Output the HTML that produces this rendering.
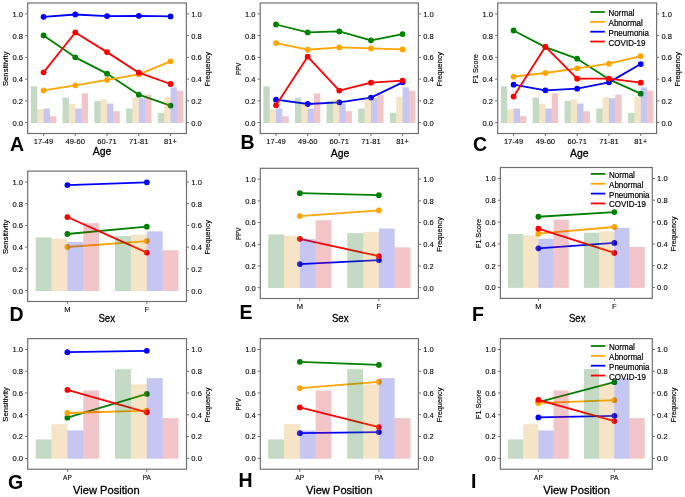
<!DOCTYPE html>
<html><head><meta charset="utf-8">
<style>
html,body{margin:0;padding:0;background:#fff;}
body{width:685px;height:497px;overflow:hidden;}
svg{display:block;will-change:transform;}
text{font-family:"Liberation Sans", sans-serif;}
.tk{font-size:8.0px;fill:#000;stroke:#000;stroke-width:0.1px;}
.yl{font-size:7.5px;fill:#000;stroke:#000;stroke-width:0.15px;}
.xl{font-size:11px;fill:#000;stroke:#000;stroke-width:0.3px;}
.let{font-size:19.5px;font-weight:bold;fill:#000;}
.lg{font-size:8.6px;fill:#000;stroke:#000;stroke-width:0.2px;}
</style></head><body>
<svg width="685" height="497" viewBox="0 0 685 497">
<rect width="685" height="497" fill="#fff"/>
<g><polyline points="43.57,35.48 75.31,57.34 107.05,73.65 138.79,94.64 170.53,105.62" fill="none" stroke="#008000" stroke-width="1.8" stroke-linejoin="round"/>
<circle cx="43.57" cy="35.48" r="2.9" fill="#008000"/>
<circle cx="75.31" cy="57.34" r="2.9" fill="#008000"/>
<circle cx="107.05" cy="73.65" r="2.9" fill="#008000"/>
<circle cx="138.79" cy="94.64" r="2.9" fill="#008000"/>
<circle cx="170.53" cy="105.62" r="2.9" fill="#008000"/>
<polyline points="43.57,90.4 75.31,85.29 107.05,79.96 138.79,74.31 170.53,61.36" fill="none" stroke="#ffa500" stroke-width="1.8" stroke-linejoin="round"/>
<circle cx="43.57" cy="90.4" r="2.9" fill="#ffa500"/>
<circle cx="75.31" cy="85.29" r="2.9" fill="#ffa500"/>
<circle cx="107.05" cy="79.96" r="2.9" fill="#ffa500"/>
<circle cx="138.79" cy="74.31" r="2.9" fill="#ffa500"/>
<circle cx="170.53" cy="61.36" r="2.9" fill="#ffa500"/>
<polyline points="43.57,16.78 75.31,14.49 107.05,16.12 138.79,15.8 170.53,16.45" fill="none" stroke="#0000ff" stroke-width="1.8" stroke-linejoin="round"/>
<circle cx="43.57" cy="16.78" r="2.9" fill="#0000ff"/>
<circle cx="75.31" cy="14.49" r="2.9" fill="#0000ff"/>
<circle cx="107.05" cy="16.12" r="2.9" fill="#0000ff"/>
<circle cx="138.79" cy="15.8" r="2.9" fill="#0000ff"/>
<circle cx="170.53" cy="16.45" r="2.9" fill="#0000ff"/>
<polyline points="43.57,72.35 75.31,32.44 107.05,52.12 138.79,72.67 170.53,83.98" fill="none" stroke="#ff0000" stroke-width="1.8" stroke-linejoin="round"/>
<circle cx="43.57" cy="72.35" r="2.9" fill="#ff0000"/>
<circle cx="75.31" cy="32.44" r="2.9" fill="#ff0000"/>
<circle cx="107.05" cy="52.12" r="2.9" fill="#ff0000"/>
<circle cx="138.79" cy="72.67" r="2.9" fill="#ff0000"/>
<circle cx="170.53" cy="83.98" r="2.9" fill="#ff0000"/>
<rect x="30.87" y="86.27" width="6.35" height="36.76" fill="rgb(19,107,19)" fill-opacity="0.25"/>
<rect x="62.61" y="97.58" width="6.35" height="25.45" fill="rgb(19,107,19)" fill-opacity="0.25"/>
<rect x="94.35" y="100.95" width="6.35" height="22.08" fill="rgb(19,107,19)" fill-opacity="0.25"/>
<rect x="126.09" y="108.56" width="6.35" height="14.46" fill="rgb(19,107,19)" fill-opacity="0.25"/>
<rect x="157.83" y="112.91" width="6.35" height="10.11" fill="rgb(19,107,19)" fill-opacity="0.25"/>
<rect x="37.22" y="109.21" width="6.35" height="13.81" fill="rgb(215,147,27)" fill-opacity="0.25"/>
<rect x="68.96" y="103.99" width="6.35" height="19.03" fill="rgb(215,147,27)" fill-opacity="0.25"/>
<rect x="100.7" y="99.32" width="6.35" height="23.71" fill="rgb(215,147,27)" fill-opacity="0.25"/>
<rect x="132.44" y="97.25" width="6.35" height="25.77" fill="rgb(215,147,27)" fill-opacity="0.25"/>
<rect x="164.18" y="96.93" width="6.35" height="26.1" fill="rgb(215,147,27)" fill-opacity="0.25"/>
<rect x="43.57" y="108.56" width="6.35" height="14.46" fill="rgb(27,27,203)" fill-opacity="0.25"/>
<rect x="75.31" y="108.56" width="6.35" height="14.46" fill="rgb(27,27,203)" fill-opacity="0.25"/>
<rect x="107.05" y="103.56" width="6.35" height="19.47" fill="rgb(27,27,203)" fill-opacity="0.25"/>
<rect x="138.79" y="98.23" width="6.35" height="24.8" fill="rgb(27,27,203)" fill-opacity="0.25"/>
<rect x="170.53" y="87.35" width="6.35" height="35.67" fill="rgb(27,27,203)" fill-opacity="0.25"/>
<rect x="49.92" y="116.17" width="6.35" height="6.85" fill="rgb(203,27,35)" fill-opacity="0.25"/>
<rect x="81.66" y="93.34" width="6.35" height="29.69" fill="rgb(203,27,35)" fill-opacity="0.25"/>
<rect x="113.4" y="111.28" width="6.35" height="11.75" fill="rgb(203,27,35)" fill-opacity="0.25"/>
<rect x="145.14" y="94.64" width="6.35" height="28.38" fill="rgb(203,27,35)" fill-opacity="0.25"/>
<rect x="176.88" y="90.62" width="6.35" height="32.41" fill="rgb(203,27,35)" fill-opacity="0.25"/>
<rect x="27.7" y="3" width="158.7" height="130.5" fill="none" stroke="#707070" stroke-width="1.2"/>
<line x1="25.1" y1="122.62" x2="27.7" y2="122.62" stroke="#707070" stroke-width="1"/>
<line x1="186.4" y1="122.62" x2="189" y2="122.62" stroke="#707070" stroke-width="1"/>
<text transform="translate(23.1,125.53) scale(0.95,1)" text-anchor="end" class="tk">0.0</text>
<text transform="translate(191.2,125.53) scale(0.95,1)" class="tk">0.0</text>
<line x1="25.1" y1="100.88" x2="27.7" y2="100.88" stroke="#707070" stroke-width="1"/>
<line x1="186.4" y1="100.88" x2="189" y2="100.88" stroke="#707070" stroke-width="1"/>
<text transform="translate(23.1,103.78) scale(0.95,1)" text-anchor="end" class="tk">0.2</text>
<text transform="translate(191.2,103.78) scale(0.95,1)" class="tk">0.2</text>
<line x1="25.1" y1="79.12" x2="27.7" y2="79.12" stroke="#707070" stroke-width="1"/>
<line x1="186.4" y1="79.12" x2="189" y2="79.12" stroke="#707070" stroke-width="1"/>
<text transform="translate(23.1,82.03) scale(0.95,1)" text-anchor="end" class="tk">0.4</text>
<text transform="translate(191.2,82.03) scale(0.95,1)" class="tk">0.4</text>
<line x1="25.1" y1="57.38" x2="27.7" y2="57.38" stroke="#707070" stroke-width="1"/>
<line x1="186.4" y1="57.38" x2="189" y2="57.38" stroke="#707070" stroke-width="1"/>
<text transform="translate(23.1,60.27) scale(0.95,1)" text-anchor="end" class="tk">0.6</text>
<text transform="translate(191.2,60.27) scale(0.95,1)" class="tk">0.6</text>
<line x1="25.1" y1="35.62" x2="27.7" y2="35.62" stroke="#707070" stroke-width="1"/>
<line x1="186.4" y1="35.62" x2="189" y2="35.62" stroke="#707070" stroke-width="1"/>
<text transform="translate(23.1,38.52) scale(0.95,1)" text-anchor="end" class="tk">0.8</text>
<text transform="translate(191.2,38.52) scale(0.95,1)" class="tk">0.8</text>
<line x1="25.1" y1="13.87" x2="27.7" y2="13.87" stroke="#707070" stroke-width="1"/>
<line x1="186.4" y1="13.87" x2="189" y2="13.87" stroke="#707070" stroke-width="1"/>
<text transform="translate(23.1,16.77) scale(0.95,1)" text-anchor="end" class="tk">1.0</text>
<text transform="translate(191.2,16.77) scale(0.95,1)" class="tk">1.0</text>
<line x1="43.57" y1="133.5" x2="43.57" y2="136.1" stroke="#707070" stroke-width="1"/>
<text transform="translate(43.57,144.3) scale(0.95,1)" text-anchor="middle" class="tk">17-49</text>
<line x1="75.31" y1="133.5" x2="75.31" y2="136.1" stroke="#707070" stroke-width="1"/>
<text transform="translate(75.31,144.3) scale(0.95,1)" text-anchor="middle" class="tk">49-60</text>
<line x1="107.05" y1="133.5" x2="107.05" y2="136.1" stroke="#707070" stroke-width="1"/>
<text transform="translate(107.05,144.3) scale(0.95,1)" text-anchor="middle" class="tk">60-71</text>
<line x1="138.79" y1="133.5" x2="138.79" y2="136.1" stroke="#707070" stroke-width="1"/>
<text transform="translate(138.79,144.3) scale(0.95,1)" text-anchor="middle" class="tk">71-81</text>
<line x1="170.53" y1="133.5" x2="170.53" y2="136.1" stroke="#707070" stroke-width="1"/>
<text transform="translate(170.53,144.3) scale(0.95,1)" text-anchor="middle" class="tk">81+</text>
<text transform="translate(8.2,68.75) rotate(-90)" text-anchor="middle" class="yl" textLength="34.5" lengthAdjust="spacingAndGlyphs">Sensitivity</text>
<text transform="translate(209.7,69.25) rotate(-90)" text-anchor="middle" class="yl" textLength="34.5" lengthAdjust="spacingAndGlyphs">Frequency</text>
<text x="102.1" y="155.1" text-anchor="middle" class="xl" textLength="18.6" lengthAdjust="spacingAndGlyphs">Age</text>
<text x="10" y="151.4" class="let">A</text></g>
<g><polyline points="276.02,24.5 307.66,32.44 339.3,31.46 370.94,40.37 402.58,34.07" fill="none" stroke="#008000" stroke-width="1.8" stroke-linejoin="round"/>
<circle cx="276.02" cy="24.5" r="2.9" fill="#008000"/>
<circle cx="307.66" cy="32.44" r="2.9" fill="#008000"/>
<circle cx="339.3" cy="31.46" r="2.9" fill="#008000"/>
<circle cx="370.94" cy="40.37" r="2.9" fill="#008000"/>
<circle cx="402.58" cy="34.07" r="2.9" fill="#008000"/>
<polyline points="276.02,43.09 307.66,49.73 339.3,47.44 370.94,48.42 402.58,49.4" fill="none" stroke="#ffa500" stroke-width="1.8" stroke-linejoin="round"/>
<circle cx="276.02" cy="43.09" r="2.9" fill="#ffa500"/>
<circle cx="307.66" cy="49.73" r="2.9" fill="#ffa500"/>
<circle cx="339.3" cy="47.44" r="2.9" fill="#ffa500"/>
<circle cx="370.94" cy="48.42" r="2.9" fill="#ffa500"/>
<circle cx="402.58" cy="49.4" r="2.9" fill="#ffa500"/>
<polyline points="276.02,99.64 307.66,103.99 339.3,102.36 370.94,97.58 402.58,82.35" fill="none" stroke="#0000ff" stroke-width="1.8" stroke-linejoin="round"/>
<circle cx="276.02" cy="99.64" r="2.9" fill="#0000ff"/>
<circle cx="307.66" cy="103.99" r="2.9" fill="#0000ff"/>
<circle cx="339.3" cy="102.36" r="2.9" fill="#0000ff"/>
<circle cx="370.94" cy="97.58" r="2.9" fill="#0000ff"/>
<circle cx="402.58" cy="82.35" r="2.9" fill="#0000ff"/>
<polyline points="276.02,105.3 307.66,56.69 339.3,90.62 370.94,82.68 402.58,80.61" fill="none" stroke="#ff0000" stroke-width="1.8" stroke-linejoin="round"/>
<circle cx="276.02" cy="105.3" r="2.9" fill="#ff0000"/>
<circle cx="307.66" cy="56.69" r="2.9" fill="#ff0000"/>
<circle cx="339.3" cy="90.62" r="2.9" fill="#ff0000"/>
<circle cx="370.94" cy="82.68" r="2.9" fill="#ff0000"/>
<circle cx="402.58" cy="80.61" r="2.9" fill="#ff0000"/>
<rect x="263.36" y="86.27" width="6.33" height="36.76" fill="rgb(19,107,19)" fill-opacity="0.25"/>
<rect x="295" y="97.58" width="6.33" height="25.45" fill="rgb(19,107,19)" fill-opacity="0.25"/>
<rect x="326.64" y="100.95" width="6.33" height="22.08" fill="rgb(19,107,19)" fill-opacity="0.25"/>
<rect x="358.28" y="108.56" width="6.33" height="14.46" fill="rgb(19,107,19)" fill-opacity="0.25"/>
<rect x="389.92" y="112.91" width="6.33" height="10.11" fill="rgb(19,107,19)" fill-opacity="0.25"/>
<rect x="269.69" y="109.21" width="6.33" height="13.81" fill="rgb(215,147,27)" fill-opacity="0.25"/>
<rect x="301.33" y="103.99" width="6.33" height="19.03" fill="rgb(215,147,27)" fill-opacity="0.25"/>
<rect x="332.97" y="99.32" width="6.33" height="23.71" fill="rgb(215,147,27)" fill-opacity="0.25"/>
<rect x="364.61" y="97.25" width="6.33" height="25.77" fill="rgb(215,147,27)" fill-opacity="0.25"/>
<rect x="396.25" y="96.93" width="6.33" height="26.1" fill="rgb(215,147,27)" fill-opacity="0.25"/>
<rect x="276.02" y="108.56" width="6.33" height="14.46" fill="rgb(27,27,203)" fill-opacity="0.25"/>
<rect x="307.66" y="108.56" width="6.33" height="14.46" fill="rgb(27,27,203)" fill-opacity="0.25"/>
<rect x="339.3" y="103.56" width="6.33" height="19.47" fill="rgb(27,27,203)" fill-opacity="0.25"/>
<rect x="370.94" y="98.23" width="6.33" height="24.8" fill="rgb(27,27,203)" fill-opacity="0.25"/>
<rect x="402.58" y="87.35" width="6.33" height="35.67" fill="rgb(27,27,203)" fill-opacity="0.25"/>
<rect x="282.35" y="116.17" width="6.33" height="6.85" fill="rgb(203,27,35)" fill-opacity="0.25"/>
<rect x="313.99" y="93.34" width="6.33" height="29.69" fill="rgb(203,27,35)" fill-opacity="0.25"/>
<rect x="345.63" y="111.28" width="6.33" height="11.75" fill="rgb(203,27,35)" fill-opacity="0.25"/>
<rect x="377.27" y="94.64" width="6.33" height="28.38" fill="rgb(203,27,35)" fill-opacity="0.25"/>
<rect x="408.91" y="90.62" width="6.33" height="32.41" fill="rgb(203,27,35)" fill-opacity="0.25"/>
<rect x="260.2" y="3" width="158.2" height="130.5" fill="none" stroke="#707070" stroke-width="1.2"/>
<line x1="257.6" y1="122.62" x2="260.2" y2="122.62" stroke="#707070" stroke-width="1"/>
<line x1="418.4" y1="122.62" x2="421" y2="122.62" stroke="#707070" stroke-width="1"/>
<text transform="translate(255.6,125.53) scale(0.95,1)" text-anchor="end" class="tk">0.0</text>
<text transform="translate(423.2,125.53) scale(0.95,1)" class="tk">0.0</text>
<line x1="257.6" y1="100.88" x2="260.2" y2="100.88" stroke="#707070" stroke-width="1"/>
<line x1="418.4" y1="100.88" x2="421" y2="100.88" stroke="#707070" stroke-width="1"/>
<text transform="translate(255.6,103.78) scale(0.95,1)" text-anchor="end" class="tk">0.2</text>
<text transform="translate(423.2,103.78) scale(0.95,1)" class="tk">0.2</text>
<line x1="257.6" y1="79.12" x2="260.2" y2="79.12" stroke="#707070" stroke-width="1"/>
<line x1="418.4" y1="79.12" x2="421" y2="79.12" stroke="#707070" stroke-width="1"/>
<text transform="translate(255.6,82.03) scale(0.95,1)" text-anchor="end" class="tk">0.4</text>
<text transform="translate(423.2,82.03) scale(0.95,1)" class="tk">0.4</text>
<line x1="257.6" y1="57.38" x2="260.2" y2="57.38" stroke="#707070" stroke-width="1"/>
<line x1="418.4" y1="57.38" x2="421" y2="57.38" stroke="#707070" stroke-width="1"/>
<text transform="translate(255.6,60.27) scale(0.95,1)" text-anchor="end" class="tk">0.6</text>
<text transform="translate(423.2,60.27) scale(0.95,1)" class="tk">0.6</text>
<line x1="257.6" y1="35.62" x2="260.2" y2="35.62" stroke="#707070" stroke-width="1"/>
<line x1="418.4" y1="35.62" x2="421" y2="35.62" stroke="#707070" stroke-width="1"/>
<text transform="translate(255.6,38.52) scale(0.95,1)" text-anchor="end" class="tk">0.8</text>
<text transform="translate(423.2,38.52) scale(0.95,1)" class="tk">0.8</text>
<line x1="257.6" y1="13.87" x2="260.2" y2="13.87" stroke="#707070" stroke-width="1"/>
<line x1="418.4" y1="13.87" x2="421" y2="13.87" stroke="#707070" stroke-width="1"/>
<text transform="translate(255.6,16.77) scale(0.95,1)" text-anchor="end" class="tk">1.0</text>
<text transform="translate(423.2,16.77) scale(0.95,1)" class="tk">1.0</text>
<line x1="276.02" y1="133.5" x2="276.02" y2="136.1" stroke="#707070" stroke-width="1"/>
<text transform="translate(276.02,144.3) scale(0.95,1)" text-anchor="middle" class="tk">17-49</text>
<line x1="307.66" y1="133.5" x2="307.66" y2="136.1" stroke="#707070" stroke-width="1"/>
<text transform="translate(307.66,144.3) scale(0.95,1)" text-anchor="middle" class="tk">49-60</text>
<line x1="339.3" y1="133.5" x2="339.3" y2="136.1" stroke="#707070" stroke-width="1"/>
<text transform="translate(339.3,144.3) scale(0.95,1)" text-anchor="middle" class="tk">60-71</text>
<line x1="370.94" y1="133.5" x2="370.94" y2="136.1" stroke="#707070" stroke-width="1"/>
<text transform="translate(370.94,144.3) scale(0.95,1)" text-anchor="middle" class="tk">71-81</text>
<line x1="402.58" y1="133.5" x2="402.58" y2="136.1" stroke="#707070" stroke-width="1"/>
<text transform="translate(402.58,144.3) scale(0.95,1)" text-anchor="middle" class="tk">81+</text>
<text transform="translate(240.7,68.75) rotate(-90)" text-anchor="middle" class="yl" textLength="12.4" lengthAdjust="spacingAndGlyphs">PPV</text>
<text transform="translate(441.7,69.25) rotate(-90)" text-anchor="middle" class="yl" textLength="34.5" lengthAdjust="spacingAndGlyphs">Frequency</text>
<text x="340" y="157" text-anchor="middle" class="xl" textLength="18.6" lengthAdjust="spacingAndGlyphs">Age</text>
<text x="240.6" y="149" class="let">B</text></g>
<g><polyline points="513.59,30.48 545.37,47.12 577.15,58.65 608.93,79.31 640.71,93.66" fill="none" stroke="#008000" stroke-width="1.8" stroke-linejoin="round"/>
<circle cx="513.59" cy="30.48" r="2.9" fill="#008000"/>
<circle cx="545.37" cy="47.12" r="2.9" fill="#008000"/>
<circle cx="577.15" cy="58.65" r="2.9" fill="#008000"/>
<circle cx="608.93" cy="79.31" r="2.9" fill="#008000"/>
<circle cx="640.71" cy="93.66" r="2.9" fill="#008000"/>
<polyline points="513.59,76.7 545.37,73 577.15,68.32 608.93,63.65 640.71,56.04" fill="none" stroke="#ffa500" stroke-width="1.8" stroke-linejoin="round"/>
<circle cx="513.59" cy="76.7" r="2.9" fill="#ffa500"/>
<circle cx="545.37" cy="73" r="2.9" fill="#ffa500"/>
<circle cx="577.15" cy="68.32" r="2.9" fill="#ffa500"/>
<circle cx="608.93" cy="63.65" r="2.9" fill="#ffa500"/>
<circle cx="640.71" cy="56.04" r="2.9" fill="#ffa500"/>
<polyline points="513.59,84.64 545.37,90.29 577.15,88.66 608.93,82.35 640.71,64.08" fill="none" stroke="#0000ff" stroke-width="1.8" stroke-linejoin="round"/>
<circle cx="513.59" cy="84.64" r="2.9" fill="#0000ff"/>
<circle cx="545.37" cy="90.29" r="2.9" fill="#0000ff"/>
<circle cx="577.15" cy="88.66" r="2.9" fill="#0000ff"/>
<circle cx="608.93" cy="82.35" r="2.9" fill="#0000ff"/>
<circle cx="640.71" cy="64.08" r="2.9" fill="#0000ff"/>
<polyline points="513.59,96.6 545.37,46.68 577.15,78.66 608.93,78.66 640.71,82.68" fill="none" stroke="#ff0000" stroke-width="1.8" stroke-linejoin="round"/>
<circle cx="513.59" cy="96.6" r="2.9" fill="#ff0000"/>
<circle cx="545.37" cy="46.68" r="2.9" fill="#ff0000"/>
<circle cx="577.15" cy="78.66" r="2.9" fill="#ff0000"/>
<circle cx="608.93" cy="78.66" r="2.9" fill="#ff0000"/>
<circle cx="640.71" cy="82.68" r="2.9" fill="#ff0000"/>
<rect x="500.88" y="86.27" width="6.36" height="36.76" fill="rgb(19,107,19)" fill-opacity="0.25"/>
<rect x="532.66" y="97.58" width="6.36" height="25.45" fill="rgb(19,107,19)" fill-opacity="0.25"/>
<rect x="564.44" y="100.95" width="6.36" height="22.08" fill="rgb(19,107,19)" fill-opacity="0.25"/>
<rect x="596.22" y="108.56" width="6.36" height="14.46" fill="rgb(19,107,19)" fill-opacity="0.25"/>
<rect x="628" y="112.91" width="6.36" height="10.11" fill="rgb(19,107,19)" fill-opacity="0.25"/>
<rect x="507.23" y="109.21" width="6.36" height="13.81" fill="rgb(215,147,27)" fill-opacity="0.25"/>
<rect x="539.01" y="103.99" width="6.36" height="19.03" fill="rgb(215,147,27)" fill-opacity="0.25"/>
<rect x="570.79" y="99.32" width="6.36" height="23.71" fill="rgb(215,147,27)" fill-opacity="0.25"/>
<rect x="602.57" y="97.25" width="6.36" height="25.77" fill="rgb(215,147,27)" fill-opacity="0.25"/>
<rect x="634.35" y="96.93" width="6.36" height="26.1" fill="rgb(215,147,27)" fill-opacity="0.25"/>
<rect x="513.59" y="108.56" width="6.36" height="14.46" fill="rgb(27,27,203)" fill-opacity="0.25"/>
<rect x="545.37" y="108.56" width="6.36" height="14.46" fill="rgb(27,27,203)" fill-opacity="0.25"/>
<rect x="577.15" y="103.56" width="6.36" height="19.47" fill="rgb(27,27,203)" fill-opacity="0.25"/>
<rect x="608.93" y="98.23" width="6.36" height="24.8" fill="rgb(27,27,203)" fill-opacity="0.25"/>
<rect x="640.71" y="87.35" width="6.36" height="35.67" fill="rgb(27,27,203)" fill-opacity="0.25"/>
<rect x="519.95" y="116.17" width="6.36" height="6.85" fill="rgb(203,27,35)" fill-opacity="0.25"/>
<rect x="551.73" y="93.34" width="6.36" height="29.69" fill="rgb(203,27,35)" fill-opacity="0.25"/>
<rect x="583.51" y="111.28" width="6.36" height="11.75" fill="rgb(203,27,35)" fill-opacity="0.25"/>
<rect x="615.29" y="94.64" width="6.36" height="28.38" fill="rgb(203,27,35)" fill-opacity="0.25"/>
<rect x="647.07" y="90.62" width="6.36" height="32.41" fill="rgb(203,27,35)" fill-opacity="0.25"/>
<rect x="497.7" y="3" width="158.9" height="130.5" fill="none" stroke="#707070" stroke-width="1.2"/>
<line x1="495.1" y1="122.62" x2="497.7" y2="122.62" stroke="#707070" stroke-width="1"/>
<line x1="656.6" y1="122.62" x2="659.2" y2="122.62" stroke="#707070" stroke-width="1"/>
<text transform="translate(493.1,125.53) scale(0.95,1)" text-anchor="end" class="tk">0.0</text>
<text transform="translate(661.4,125.53) scale(0.95,1)" class="tk">0.0</text>
<line x1="495.1" y1="100.88" x2="497.7" y2="100.88" stroke="#707070" stroke-width="1"/>
<line x1="656.6" y1="100.88" x2="659.2" y2="100.88" stroke="#707070" stroke-width="1"/>
<text transform="translate(493.1,103.78) scale(0.95,1)" text-anchor="end" class="tk">0.2</text>
<text transform="translate(661.4,103.78) scale(0.95,1)" class="tk">0.2</text>
<line x1="495.1" y1="79.12" x2="497.7" y2="79.12" stroke="#707070" stroke-width="1"/>
<line x1="656.6" y1="79.12" x2="659.2" y2="79.12" stroke="#707070" stroke-width="1"/>
<text transform="translate(493.1,82.03) scale(0.95,1)" text-anchor="end" class="tk">0.4</text>
<text transform="translate(661.4,82.03) scale(0.95,1)" class="tk">0.4</text>
<line x1="495.1" y1="57.38" x2="497.7" y2="57.38" stroke="#707070" stroke-width="1"/>
<line x1="656.6" y1="57.38" x2="659.2" y2="57.38" stroke="#707070" stroke-width="1"/>
<text transform="translate(493.1,60.27) scale(0.95,1)" text-anchor="end" class="tk">0.6</text>
<text transform="translate(661.4,60.27) scale(0.95,1)" class="tk">0.6</text>
<line x1="495.1" y1="35.62" x2="497.7" y2="35.62" stroke="#707070" stroke-width="1"/>
<line x1="656.6" y1="35.62" x2="659.2" y2="35.62" stroke="#707070" stroke-width="1"/>
<text transform="translate(493.1,38.52) scale(0.95,1)" text-anchor="end" class="tk">0.8</text>
<text transform="translate(661.4,38.52) scale(0.95,1)" class="tk">0.8</text>
<line x1="495.1" y1="13.87" x2="497.7" y2="13.87" stroke="#707070" stroke-width="1"/>
<line x1="656.6" y1="13.87" x2="659.2" y2="13.87" stroke="#707070" stroke-width="1"/>
<text transform="translate(493.1,16.77) scale(0.95,1)" text-anchor="end" class="tk">1.0</text>
<text transform="translate(661.4,16.77) scale(0.95,1)" class="tk">1.0</text>
<line x1="513.59" y1="133.5" x2="513.59" y2="136.1" stroke="#707070" stroke-width="1"/>
<text transform="translate(513.59,144.3) scale(0.95,1)" text-anchor="middle" class="tk">17-49</text>
<line x1="545.37" y1="133.5" x2="545.37" y2="136.1" stroke="#707070" stroke-width="1"/>
<text transform="translate(545.37,144.3) scale(0.95,1)" text-anchor="middle" class="tk">49-60</text>
<line x1="577.15" y1="133.5" x2="577.15" y2="136.1" stroke="#707070" stroke-width="1"/>
<text transform="translate(577.15,144.3) scale(0.95,1)" text-anchor="middle" class="tk">60-71</text>
<line x1="608.93" y1="133.5" x2="608.93" y2="136.1" stroke="#707070" stroke-width="1"/>
<text transform="translate(608.93,144.3) scale(0.95,1)" text-anchor="middle" class="tk">71-81</text>
<line x1="640.71" y1="133.5" x2="640.71" y2="136.1" stroke="#707070" stroke-width="1"/>
<text transform="translate(640.71,144.3) scale(0.95,1)" text-anchor="middle" class="tk">81+</text>
<text transform="translate(478.2,68.75) rotate(-90)" text-anchor="middle" class="yl" textLength="29" lengthAdjust="spacingAndGlyphs">F1 Score</text>
<text transform="translate(679.9,69.25) rotate(-90)" text-anchor="middle" class="yl" textLength="34.5" lengthAdjust="spacingAndGlyphs">Frequency</text>
<text x="579.3" y="157.4" text-anchor="middle" class="xl" textLength="18.6" lengthAdjust="spacingAndGlyphs">Age</text>
<text x="473" y="151.2" class="let">C</text>
<line x1="590.3" y1="12" x2="604.8" y2="12" stroke="#008000" stroke-width="1.8"/>
<text transform="translate(608.6,16) scale(0.93,1)" class="lg">Normal</text>
<line x1="590.3" y1="21.85" x2="604.8" y2="21.85" stroke="#ffa500" stroke-width="1.8"/>
<text transform="translate(608.6,25.85) scale(0.93,1)" class="lg">Abnormal</text>
<line x1="590.3" y1="31.7" x2="604.8" y2="31.7" stroke="#0000ff" stroke-width="1.8"/>
<text transform="translate(608.6,35.7) scale(0.93,1)" class="lg">Pneumonia</text>
<line x1="590.3" y1="41.55" x2="604.8" y2="41.55" stroke="#ff0000" stroke-width="1.8"/>
<text transform="translate(608.6,45.55) scale(0.93,1)" class="lg">COVID-19</text></g>
<g><polyline points="67.4,233.98 146.8,226.7" fill="none" stroke="#008000" stroke-width="1.8" stroke-linejoin="round"/>
<circle cx="67.4" cy="233.98" r="2.9" fill="#008000"/>
<circle cx="146.8" cy="226.7" r="2.9" fill="#008000"/>
<polyline points="67.4,247.02 146.8,241.05" fill="none" stroke="#ffa500" stroke-width="1.8" stroke-linejoin="round"/>
<circle cx="67.4" cy="247.02" r="2.9" fill="#ffa500"/>
<circle cx="146.8" cy="241.05" r="2.9" fill="#ffa500"/>
<polyline points="67.4,185.08 146.8,182.37" fill="none" stroke="#0000ff" stroke-width="1.8" stroke-linejoin="round"/>
<circle cx="67.4" cy="185.08" r="2.9" fill="#0000ff"/>
<circle cx="146.8" cy="182.37" r="2.9" fill="#0000ff"/>
<polyline points="67.4,217.03 146.8,252.67" fill="none" stroke="#ff0000" stroke-width="1.8" stroke-linejoin="round"/>
<circle cx="67.4" cy="217.03" r="2.9" fill="#ff0000"/>
<circle cx="146.8" cy="252.67" r="2.9" fill="#ff0000"/>
<rect x="35.64" y="237.35" width="15.88" height="53.68" fill="rgb(19,107,19)" fill-opacity="0.25"/>
<rect x="115.04" y="236.05" width="15.88" height="54.99" fill="rgb(19,107,19)" fill-opacity="0.25"/>
<rect x="51.52" y="238.66" width="15.88" height="52.38" fill="rgb(215,147,27)" fill-opacity="0.25"/>
<rect x="130.92" y="234.74" width="15.88" height="56.29" fill="rgb(215,147,27)" fill-opacity="0.25"/>
<rect x="67.4" y="242.02" width="15.88" height="49.01" fill="rgb(27,27,203)" fill-opacity="0.25"/>
<rect x="146.8" y="231.38" width="15.88" height="59.66" fill="rgb(27,27,203)" fill-opacity="0.25"/>
<rect x="83.28" y="223.12" width="15.88" height="67.92" fill="rgb(203,27,35)" fill-opacity="0.25"/>
<rect x="162.68" y="250.28" width="15.88" height="40.75" fill="rgb(203,27,35)" fill-opacity="0.25"/>
<rect x="27.7" y="171.1" width="158.8" height="130.4" fill="none" stroke="#707070" stroke-width="1.2"/>
<line x1="25.1" y1="290.63" x2="27.7" y2="290.63" stroke="#707070" stroke-width="1"/>
<line x1="186.5" y1="290.63" x2="189.1" y2="290.63" stroke="#707070" stroke-width="1"/>
<text transform="translate(23.1,293.53) scale(0.95,1)" text-anchor="end" class="tk">0.0</text>
<text transform="translate(191.3,293.53) scale(0.95,1)" class="tk">0.0</text>
<line x1="25.1" y1="268.9" x2="27.7" y2="268.9" stroke="#707070" stroke-width="1"/>
<line x1="186.5" y1="268.9" x2="189.1" y2="268.9" stroke="#707070" stroke-width="1"/>
<text transform="translate(23.1,271.8) scale(0.95,1)" text-anchor="end" class="tk">0.2</text>
<text transform="translate(191.3,271.8) scale(0.95,1)" class="tk">0.2</text>
<line x1="25.1" y1="247.17" x2="27.7" y2="247.17" stroke="#707070" stroke-width="1"/>
<line x1="186.5" y1="247.17" x2="189.1" y2="247.17" stroke="#707070" stroke-width="1"/>
<text transform="translate(23.1,250.07) scale(0.95,1)" text-anchor="end" class="tk">0.4</text>
<text transform="translate(191.3,250.07) scale(0.95,1)" class="tk">0.4</text>
<line x1="25.1" y1="225.43" x2="27.7" y2="225.43" stroke="#707070" stroke-width="1"/>
<line x1="186.5" y1="225.43" x2="189.1" y2="225.43" stroke="#707070" stroke-width="1"/>
<text transform="translate(23.1,228.33) scale(0.95,1)" text-anchor="end" class="tk">0.6</text>
<text transform="translate(191.3,228.33) scale(0.95,1)" class="tk">0.6</text>
<line x1="25.1" y1="203.7" x2="27.7" y2="203.7" stroke="#707070" stroke-width="1"/>
<line x1="186.5" y1="203.7" x2="189.1" y2="203.7" stroke="#707070" stroke-width="1"/>
<text transform="translate(23.1,206.6) scale(0.95,1)" text-anchor="end" class="tk">0.8</text>
<text transform="translate(191.3,206.6) scale(0.95,1)" class="tk">0.8</text>
<line x1="25.1" y1="181.97" x2="27.7" y2="181.97" stroke="#707070" stroke-width="1"/>
<line x1="186.5" y1="181.97" x2="189.1" y2="181.97" stroke="#707070" stroke-width="1"/>
<text transform="translate(23.1,184.87) scale(0.95,1)" text-anchor="end" class="tk">1.0</text>
<text transform="translate(191.3,184.87) scale(0.95,1)" class="tk">1.0</text>
<line x1="67.4" y1="301.5" x2="67.4" y2="304.1" stroke="#707070" stroke-width="1"/>
<text transform="translate(67.4,312.3) scale(0.95,1)" text-anchor="middle" class="tk">M</text>
<line x1="146.8" y1="301.5" x2="146.8" y2="304.1" stroke="#707070" stroke-width="1"/>
<text transform="translate(146.8,312.3) scale(0.95,1)" text-anchor="middle" class="tk">F</text>
<text transform="translate(8.2,236.8) rotate(-90)" text-anchor="middle" class="yl" textLength="34.5" lengthAdjust="spacingAndGlyphs">Sensitivity</text>
<text transform="translate(209.8,237.3) rotate(-90)" text-anchor="middle" class="yl" textLength="34.5" lengthAdjust="spacingAndGlyphs">Frequency</text>
<text x="106.7" y="322" text-anchor="middle" class="xl" textLength="16.6" lengthAdjust="spacingAndGlyphs">Sex</text>
<text x="9.4" y="321" class="let">D</text></g>
<g><polyline points="299.82,193.22 378.88,195.17" fill="none" stroke="#008000" stroke-width="1.8" stroke-linejoin="round"/>
<circle cx="299.82" cy="193.22" r="2.9" fill="#008000"/>
<circle cx="378.88" cy="195.17" r="2.9" fill="#008000"/>
<polyline points="299.82,216.11 378.88,210.47" fill="none" stroke="#ffa500" stroke-width="1.8" stroke-linejoin="round"/>
<circle cx="299.82" cy="216.11" r="2.9" fill="#ffa500"/>
<circle cx="378.88" cy="210.47" r="2.9" fill="#ffa500"/>
<polyline points="299.82,264.07 378.88,260.06" fill="none" stroke="#0000ff" stroke-width="1.8" stroke-linejoin="round"/>
<circle cx="299.82" cy="264.07" r="2.9" fill="#0000ff"/>
<circle cx="378.88" cy="260.06" r="2.9" fill="#0000ff"/>
<polyline points="299.82,238.79 378.88,256.15" fill="none" stroke="#ff0000" stroke-width="1.8" stroke-linejoin="round"/>
<circle cx="299.82" cy="238.79" r="2.9" fill="#ff0000"/>
<circle cx="378.88" cy="256.15" r="2.9" fill="#ff0000"/>
<rect x="268.2" y="234.45" width="15.81" height="53.6" fill="rgb(19,107,19)" fill-opacity="0.25"/>
<rect x="347.25" y="233.15" width="15.81" height="54.9" fill="rgb(19,107,19)" fill-opacity="0.25"/>
<rect x="284.01" y="235.75" width="15.81" height="52.3" fill="rgb(215,147,27)" fill-opacity="0.25"/>
<rect x="363.06" y="231.85" width="15.81" height="56.2" fill="rgb(215,147,27)" fill-opacity="0.25"/>
<rect x="299.82" y="239.12" width="15.81" height="48.93" fill="rgb(27,27,203)" fill-opacity="0.25"/>
<rect x="378.88" y="228.48" width="15.81" height="59.57" fill="rgb(27,27,203)" fill-opacity="0.25"/>
<rect x="315.63" y="220.24" width="15.81" height="67.81" fill="rgb(203,27,35)" fill-opacity="0.25"/>
<rect x="394.69" y="247.36" width="15.81" height="40.69" fill="rgb(203,27,35)" fill-opacity="0.25"/>
<rect x="260.3" y="168.3" width="158.1" height="130.2" fill="none" stroke="#707070" stroke-width="1.2"/>
<line x1="257.7" y1="287.65" x2="260.3" y2="287.65" stroke="#707070" stroke-width="1"/>
<line x1="418.4" y1="287.65" x2="421" y2="287.65" stroke="#707070" stroke-width="1"/>
<text transform="translate(255.7,290.55) scale(0.95,1)" text-anchor="end" class="tk">0.0</text>
<text transform="translate(423.2,290.55) scale(0.95,1)" class="tk">0.0</text>
<line x1="257.7" y1="265.95" x2="260.3" y2="265.95" stroke="#707070" stroke-width="1"/>
<line x1="418.4" y1="265.95" x2="421" y2="265.95" stroke="#707070" stroke-width="1"/>
<text transform="translate(255.7,268.85) scale(0.95,1)" text-anchor="end" class="tk">0.2</text>
<text transform="translate(423.2,268.85) scale(0.95,1)" class="tk">0.2</text>
<line x1="257.7" y1="244.25" x2="260.3" y2="244.25" stroke="#707070" stroke-width="1"/>
<line x1="418.4" y1="244.25" x2="421" y2="244.25" stroke="#707070" stroke-width="1"/>
<text transform="translate(255.7,247.15) scale(0.95,1)" text-anchor="end" class="tk">0.4</text>
<text transform="translate(423.2,247.15) scale(0.95,1)" class="tk">0.4</text>
<line x1="257.7" y1="222.55" x2="260.3" y2="222.55" stroke="#707070" stroke-width="1"/>
<line x1="418.4" y1="222.55" x2="421" y2="222.55" stroke="#707070" stroke-width="1"/>
<text transform="translate(255.7,225.45) scale(0.95,1)" text-anchor="end" class="tk">0.6</text>
<text transform="translate(423.2,225.45) scale(0.95,1)" class="tk">0.6</text>
<line x1="257.7" y1="200.85" x2="260.3" y2="200.85" stroke="#707070" stroke-width="1"/>
<line x1="418.4" y1="200.85" x2="421" y2="200.85" stroke="#707070" stroke-width="1"/>
<text transform="translate(255.7,203.75) scale(0.95,1)" text-anchor="end" class="tk">0.8</text>
<text transform="translate(423.2,203.75) scale(0.95,1)" class="tk">0.8</text>
<line x1="257.7" y1="179.15" x2="260.3" y2="179.15" stroke="#707070" stroke-width="1"/>
<line x1="418.4" y1="179.15" x2="421" y2="179.15" stroke="#707070" stroke-width="1"/>
<text transform="translate(255.7,182.05) scale(0.95,1)" text-anchor="end" class="tk">1.0</text>
<text transform="translate(423.2,182.05) scale(0.95,1)" class="tk">1.0</text>
<line x1="299.82" y1="298.5" x2="299.82" y2="301.1" stroke="#707070" stroke-width="1"/>
<text transform="translate(299.82,309.3) scale(0.95,1)" text-anchor="middle" class="tk">M</text>
<line x1="378.88" y1="298.5" x2="378.88" y2="301.1" stroke="#707070" stroke-width="1"/>
<text transform="translate(378.88,309.3) scale(0.95,1)" text-anchor="middle" class="tk">F</text>
<text transform="translate(240.8,233.9) rotate(-90)" text-anchor="middle" class="yl" textLength="12.4" lengthAdjust="spacingAndGlyphs">PPV</text>
<text transform="translate(441.7,234.4) rotate(-90)" text-anchor="middle" class="yl" textLength="34.5" lengthAdjust="spacingAndGlyphs">Frequency</text>
<text x="340.2" y="322" text-anchor="middle" class="xl" textLength="16.6" lengthAdjust="spacingAndGlyphs">Sex</text>
<text x="239.4" y="318.6" class="let">E</text></g>
<g><polyline points="538.38,216.77 614.32,212.08" fill="none" stroke="#008000" stroke-width="1.8" stroke-linejoin="round"/>
<circle cx="538.38" cy="216.77" r="2.9" fill="#008000"/>
<circle cx="614.32" cy="212.08" r="2.9" fill="#008000"/>
<polyline points="538.38,233.68 614.32,227.02" fill="none" stroke="#ffa500" stroke-width="1.8" stroke-linejoin="round"/>
<circle cx="538.38" cy="233.68" r="2.9" fill="#ffa500"/>
<circle cx="614.32" cy="227.02" r="2.9" fill="#ffa500"/>
<polyline points="538.38,248.29 614.32,242.95" fill="none" stroke="#0000ff" stroke-width="1.8" stroke-linejoin="round"/>
<circle cx="538.38" cy="248.29" r="2.9" fill="#0000ff"/>
<circle cx="614.32" cy="242.95" r="2.9" fill="#0000ff"/>
<polyline points="538.38,228.66 614.32,252.98" fill="none" stroke="#ff0000" stroke-width="1.8" stroke-linejoin="round"/>
<circle cx="538.38" cy="228.66" r="2.9" fill="#ff0000"/>
<circle cx="614.32" cy="252.98" r="2.9" fill="#ff0000"/>
<rect x="508" y="234" width="15.19" height="53.89" fill="rgb(19,107,19)" fill-opacity="0.25"/>
<rect x="583.94" y="232.7" width="15.19" height="55.2" fill="rgb(19,107,19)" fill-opacity="0.25"/>
<rect x="523.18" y="235.31" width="15.19" height="52.58" fill="rgb(215,147,27)" fill-opacity="0.25"/>
<rect x="599.13" y="231.39" width="15.19" height="56.51" fill="rgb(215,147,27)" fill-opacity="0.25"/>
<rect x="538.38" y="238.7" width="15.19" height="49.2" fill="rgb(27,27,203)" fill-opacity="0.25"/>
<rect x="614.32" y="228" width="15.19" height="59.89" fill="rgb(27,27,203)" fill-opacity="0.25"/>
<rect x="553.57" y="219.71" width="15.19" height="68.18" fill="rgb(203,27,35)" fill-opacity="0.25"/>
<rect x="629.51" y="246.99" width="15.19" height="40.91" fill="rgb(203,27,35)" fill-opacity="0.25"/>
<rect x="500.4" y="167.5" width="151.9" height="130.9" fill="none" stroke="#707070" stroke-width="1.2"/>
<line x1="497.8" y1="287.49" x2="500.4" y2="287.49" stroke="#707070" stroke-width="1"/>
<line x1="652.3" y1="287.49" x2="654.9" y2="287.49" stroke="#707070" stroke-width="1"/>
<text transform="translate(495.8,290.39) scale(0.95,1)" text-anchor="end" class="tk">0.0</text>
<text transform="translate(657.1,290.39) scale(0.95,1)" class="tk">0.0</text>
<line x1="497.8" y1="265.67" x2="500.4" y2="265.67" stroke="#707070" stroke-width="1"/>
<line x1="652.3" y1="265.67" x2="654.9" y2="265.67" stroke="#707070" stroke-width="1"/>
<text transform="translate(495.8,268.57) scale(0.95,1)" text-anchor="end" class="tk">0.2</text>
<text transform="translate(657.1,268.57) scale(0.95,1)" class="tk">0.2</text>
<line x1="497.8" y1="243.86" x2="500.4" y2="243.86" stroke="#707070" stroke-width="1"/>
<line x1="652.3" y1="243.86" x2="654.9" y2="243.86" stroke="#707070" stroke-width="1"/>
<text transform="translate(495.8,246.76) scale(0.95,1)" text-anchor="end" class="tk">0.4</text>
<text transform="translate(657.1,246.76) scale(0.95,1)" class="tk">0.4</text>
<line x1="497.8" y1="222.04" x2="500.4" y2="222.04" stroke="#707070" stroke-width="1"/>
<line x1="652.3" y1="222.04" x2="654.9" y2="222.04" stroke="#707070" stroke-width="1"/>
<text transform="translate(495.8,224.94) scale(0.95,1)" text-anchor="end" class="tk">0.6</text>
<text transform="translate(657.1,224.94) scale(0.95,1)" class="tk">0.6</text>
<line x1="497.8" y1="200.22" x2="500.4" y2="200.22" stroke="#707070" stroke-width="1"/>
<line x1="652.3" y1="200.22" x2="654.9" y2="200.22" stroke="#707070" stroke-width="1"/>
<text transform="translate(495.8,203.12) scale(0.95,1)" text-anchor="end" class="tk">0.8</text>
<text transform="translate(657.1,203.12) scale(0.95,1)" class="tk">0.8</text>
<line x1="497.8" y1="178.41" x2="500.4" y2="178.41" stroke="#707070" stroke-width="1"/>
<line x1="652.3" y1="178.41" x2="654.9" y2="178.41" stroke="#707070" stroke-width="1"/>
<text transform="translate(495.8,181.31) scale(0.95,1)" text-anchor="end" class="tk">1.0</text>
<text transform="translate(657.1,181.31) scale(0.95,1)" class="tk">1.0</text>
<line x1="538.38" y1="298.4" x2="538.38" y2="301" stroke="#707070" stroke-width="1"/>
<text transform="translate(538.38,309.2) scale(0.95,1)" text-anchor="middle" class="tk">M</text>
<line x1="614.32" y1="298.4" x2="614.32" y2="301" stroke="#707070" stroke-width="1"/>
<text transform="translate(614.32,309.2) scale(0.95,1)" text-anchor="middle" class="tk">F</text>
<text transform="translate(480.9,233.45) rotate(-90)" text-anchor="middle" class="yl" textLength="29" lengthAdjust="spacingAndGlyphs">F1 Score</text>
<text transform="translate(675.6,233.95) rotate(-90)" text-anchor="middle" class="yl" textLength="34.5" lengthAdjust="spacingAndGlyphs">Frequency</text>
<text x="577.2" y="322" text-anchor="middle" class="xl" textLength="16.6" lengthAdjust="spacingAndGlyphs">Sex</text>
<text x="472" y="321" class="let">F</text>
<line x1="590.8" y1="173.9" x2="605.3" y2="173.9" stroke="#008000" stroke-width="1.8"/>
<text transform="translate(609.1,177.9) scale(0.93,1)" class="lg">Normal</text>
<line x1="590.8" y1="183.75" x2="605.3" y2="183.75" stroke="#ffa500" stroke-width="1.8"/>
<text transform="translate(609.1,187.75) scale(0.93,1)" class="lg">Abnormal</text>
<line x1="590.8" y1="193.6" x2="605.3" y2="193.6" stroke="#0000ff" stroke-width="1.8"/>
<text transform="translate(609.1,197.6) scale(0.93,1)" class="lg">Pneumonia</text>
<line x1="590.8" y1="203.45" x2="605.3" y2="203.45" stroke="#ff0000" stroke-width="1.8"/>
<text transform="translate(609.1,207.45) scale(0.93,1)" class="lg">COVID-19</text></g>
<g><polyline points="67.4,417.69 146.8,393.96" fill="none" stroke="#008000" stroke-width="1.8" stroke-linejoin="round"/>
<circle cx="67.4" cy="417.69" r="2.9" fill="#008000"/>
<circle cx="146.8" cy="393.96" r="2.9" fill="#008000"/>
<polyline points="67.4,413.01 146.8,410.61" fill="none" stroke="#ffa500" stroke-width="1.8" stroke-linejoin="round"/>
<circle cx="67.4" cy="413.01" r="2.9" fill="#ffa500"/>
<circle cx="146.8" cy="410.61" r="2.9" fill="#ffa500"/>
<polyline points="67.4,352.17 146.8,350.86" fill="none" stroke="#0000ff" stroke-width="1.8" stroke-linejoin="round"/>
<circle cx="67.4" cy="352.17" r="2.9" fill="#0000ff"/>
<circle cx="146.8" cy="350.86" r="2.9" fill="#0000ff"/>
<polyline points="67.4,389.93 146.8,412.35" fill="none" stroke="#ff0000" stroke-width="1.8" stroke-linejoin="round"/>
<circle cx="67.4" cy="389.93" r="2.9" fill="#ff0000"/>
<circle cx="146.8" cy="412.35" r="2.9" fill="#ff0000"/>
<rect x="35.64" y="439.45" width="15.88" height="19.26" fill="rgb(19,107,19)" fill-opacity="0.25"/>
<rect x="115.04" y="369.15" width="15.88" height="89.57" fill="rgb(19,107,19)" fill-opacity="0.25"/>
<rect x="51.52" y="424.22" width="15.88" height="34.5" fill="rgb(215,147,27)" fill-opacity="0.25"/>
<rect x="130.92" y="384.38" width="15.88" height="74.33" fill="rgb(215,147,27)" fill-opacity="0.25"/>
<rect x="67.4" y="430.42" width="15.88" height="28.3" fill="rgb(27,27,203)" fill-opacity="0.25"/>
<rect x="146.8" y="378.18" width="15.88" height="80.54" fill="rgb(27,27,203)" fill-opacity="0.25"/>
<rect x="83.28" y="390.48" width="15.88" height="68.24" fill="rgb(203,27,35)" fill-opacity="0.25"/>
<rect x="162.68" y="418.12" width="15.88" height="40.59" fill="rgb(203,27,35)" fill-opacity="0.25"/>
<rect x="27.7" y="338.6" width="158.8" height="130.6" fill="none" stroke="#707070" stroke-width="1.2"/>
<line x1="25.1" y1="458.32" x2="27.7" y2="458.32" stroke="#707070" stroke-width="1"/>
<line x1="186.5" y1="458.32" x2="189.1" y2="458.32" stroke="#707070" stroke-width="1"/>
<text transform="translate(23.1,461.22) scale(0.95,1)" text-anchor="end" class="tk">0.0</text>
<text transform="translate(191.3,461.22) scale(0.95,1)" class="tk">0.0</text>
<line x1="25.1" y1="436.55" x2="27.7" y2="436.55" stroke="#707070" stroke-width="1"/>
<line x1="186.5" y1="436.55" x2="189.1" y2="436.55" stroke="#707070" stroke-width="1"/>
<text transform="translate(23.1,439.45) scale(0.95,1)" text-anchor="end" class="tk">0.2</text>
<text transform="translate(191.3,439.45) scale(0.95,1)" class="tk">0.2</text>
<line x1="25.1" y1="414.78" x2="27.7" y2="414.78" stroke="#707070" stroke-width="1"/>
<line x1="186.5" y1="414.78" x2="189.1" y2="414.78" stroke="#707070" stroke-width="1"/>
<text transform="translate(23.1,417.68) scale(0.95,1)" text-anchor="end" class="tk">0.4</text>
<text transform="translate(191.3,417.68) scale(0.95,1)" class="tk">0.4</text>
<line x1="25.1" y1="393.02" x2="27.7" y2="393.02" stroke="#707070" stroke-width="1"/>
<line x1="186.5" y1="393.02" x2="189.1" y2="393.02" stroke="#707070" stroke-width="1"/>
<text transform="translate(23.1,395.92) scale(0.95,1)" text-anchor="end" class="tk">0.6</text>
<text transform="translate(191.3,395.92) scale(0.95,1)" class="tk">0.6</text>
<line x1="25.1" y1="371.25" x2="27.7" y2="371.25" stroke="#707070" stroke-width="1"/>
<line x1="186.5" y1="371.25" x2="189.1" y2="371.25" stroke="#707070" stroke-width="1"/>
<text transform="translate(23.1,374.15) scale(0.95,1)" text-anchor="end" class="tk">0.8</text>
<text transform="translate(191.3,374.15) scale(0.95,1)" class="tk">0.8</text>
<line x1="25.1" y1="349.48" x2="27.7" y2="349.48" stroke="#707070" stroke-width="1"/>
<line x1="186.5" y1="349.48" x2="189.1" y2="349.48" stroke="#707070" stroke-width="1"/>
<text transform="translate(23.1,352.38) scale(0.95,1)" text-anchor="end" class="tk">1.0</text>
<text transform="translate(191.3,352.38) scale(0.95,1)" class="tk">1.0</text>
<line x1="67.4" y1="469.2" x2="67.4" y2="471.8" stroke="#707070" stroke-width="1"/>
<text transform="translate(67.4,480) scale(0.82,1)" text-anchor="middle" class="tk">AP</text>
<line x1="146.8" y1="469.2" x2="146.8" y2="471.8" stroke="#707070" stroke-width="1"/>
<text transform="translate(146.8,480) scale(0.82,1)" text-anchor="middle" class="tk">PA</text>
<text transform="translate(8.2,404.4) rotate(-90)" text-anchor="middle" class="yl" textLength="34.5" lengthAdjust="spacingAndGlyphs">Sensitivity</text>
<text transform="translate(209.8,404.9) rotate(-90)" text-anchor="middle" class="yl" textLength="34.5" lengthAdjust="spacingAndGlyphs">Frequency</text>
<text x="106.35" y="494" text-anchor="middle" class="xl" textLength="66.5" lengthAdjust="spacingAndGlyphs">View Position</text>
<text x="8" y="489" class="let">G</text></g>
<g><polyline points="299.82,361.86 378.88,364.9" fill="none" stroke="#008000" stroke-width="1.8" stroke-linejoin="round"/>
<circle cx="299.82" cy="361.86" r="2.9" fill="#008000"/>
<circle cx="378.88" cy="364.9" r="2.9" fill="#008000"/>
<polyline points="299.82,388.19 378.88,381.88" fill="none" stroke="#ffa500" stroke-width="1.8" stroke-linejoin="round"/>
<circle cx="299.82" cy="388.19" r="2.9" fill="#ffa500"/>
<circle cx="378.88" cy="381.88" r="2.9" fill="#ffa500"/>
<polyline points="299.82,433.14 378.88,432.05" fill="none" stroke="#0000ff" stroke-width="1.8" stroke-linejoin="round"/>
<circle cx="299.82" cy="433.14" r="2.9" fill="#0000ff"/>
<circle cx="378.88" cy="432.05" r="2.9" fill="#0000ff"/>
<polyline points="299.82,407.46 378.88,427.05" fill="none" stroke="#ff0000" stroke-width="1.8" stroke-linejoin="round"/>
<circle cx="299.82" cy="407.46" r="2.9" fill="#ff0000"/>
<circle cx="378.88" cy="427.05" r="2.9" fill="#ff0000"/>
<rect x="268.2" y="439.45" width="15.81" height="19.26" fill="rgb(19,107,19)" fill-opacity="0.25"/>
<rect x="347.25" y="369.15" width="15.81" height="89.57" fill="rgb(19,107,19)" fill-opacity="0.25"/>
<rect x="284.01" y="424.22" width="15.81" height="34.5" fill="rgb(215,147,27)" fill-opacity="0.25"/>
<rect x="363.06" y="384.38" width="15.81" height="74.33" fill="rgb(215,147,27)" fill-opacity="0.25"/>
<rect x="299.82" y="430.42" width="15.81" height="28.3" fill="rgb(27,27,203)" fill-opacity="0.25"/>
<rect x="378.88" y="378.18" width="15.81" height="80.54" fill="rgb(27,27,203)" fill-opacity="0.25"/>
<rect x="315.63" y="390.48" width="15.81" height="68.24" fill="rgb(203,27,35)" fill-opacity="0.25"/>
<rect x="394.69" y="418.12" width="15.81" height="40.59" fill="rgb(203,27,35)" fill-opacity="0.25"/>
<rect x="260.3" y="338.6" width="158.1" height="130.6" fill="none" stroke="#707070" stroke-width="1.2"/>
<line x1="257.7" y1="458.32" x2="260.3" y2="458.32" stroke="#707070" stroke-width="1"/>
<line x1="418.4" y1="458.32" x2="421" y2="458.32" stroke="#707070" stroke-width="1"/>
<text transform="translate(255.7,461.22) scale(0.95,1)" text-anchor="end" class="tk">0.0</text>
<text transform="translate(423.2,461.22) scale(0.95,1)" class="tk">0.0</text>
<line x1="257.7" y1="436.55" x2="260.3" y2="436.55" stroke="#707070" stroke-width="1"/>
<line x1="418.4" y1="436.55" x2="421" y2="436.55" stroke="#707070" stroke-width="1"/>
<text transform="translate(255.7,439.45) scale(0.95,1)" text-anchor="end" class="tk">0.2</text>
<text transform="translate(423.2,439.45) scale(0.95,1)" class="tk">0.2</text>
<line x1="257.7" y1="414.78" x2="260.3" y2="414.78" stroke="#707070" stroke-width="1"/>
<line x1="418.4" y1="414.78" x2="421" y2="414.78" stroke="#707070" stroke-width="1"/>
<text transform="translate(255.7,417.68) scale(0.95,1)" text-anchor="end" class="tk">0.4</text>
<text transform="translate(423.2,417.68) scale(0.95,1)" class="tk">0.4</text>
<line x1="257.7" y1="393.02" x2="260.3" y2="393.02" stroke="#707070" stroke-width="1"/>
<line x1="418.4" y1="393.02" x2="421" y2="393.02" stroke="#707070" stroke-width="1"/>
<text transform="translate(255.7,395.92) scale(0.95,1)" text-anchor="end" class="tk">0.6</text>
<text transform="translate(423.2,395.92) scale(0.95,1)" class="tk">0.6</text>
<line x1="257.7" y1="371.25" x2="260.3" y2="371.25" stroke="#707070" stroke-width="1"/>
<line x1="418.4" y1="371.25" x2="421" y2="371.25" stroke="#707070" stroke-width="1"/>
<text transform="translate(255.7,374.15) scale(0.95,1)" text-anchor="end" class="tk">0.8</text>
<text transform="translate(423.2,374.15) scale(0.95,1)" class="tk">0.8</text>
<line x1="257.7" y1="349.48" x2="260.3" y2="349.48" stroke="#707070" stroke-width="1"/>
<line x1="418.4" y1="349.48" x2="421" y2="349.48" stroke="#707070" stroke-width="1"/>
<text transform="translate(255.7,352.38) scale(0.95,1)" text-anchor="end" class="tk">1.0</text>
<text transform="translate(423.2,352.38) scale(0.95,1)" class="tk">1.0</text>
<line x1="299.82" y1="469.2" x2="299.82" y2="471.8" stroke="#707070" stroke-width="1"/>
<text transform="translate(299.82,480) scale(0.82,1)" text-anchor="middle" class="tk">AP</text>
<line x1="378.88" y1="469.2" x2="378.88" y2="471.8" stroke="#707070" stroke-width="1"/>
<text transform="translate(378.88,480) scale(0.82,1)" text-anchor="middle" class="tk">PA</text>
<text transform="translate(240.8,404.4) rotate(-90)" text-anchor="middle" class="yl" textLength="12.4" lengthAdjust="spacingAndGlyphs">PPV</text>
<text transform="translate(441.7,404.9) rotate(-90)" text-anchor="middle" class="yl" textLength="34.5" lengthAdjust="spacingAndGlyphs">Frequency</text>
<text x="339.25" y="494" text-anchor="middle" class="xl" textLength="66.5" lengthAdjust="spacingAndGlyphs">View Position</text>
<text x="238.6" y="486.6" class="let">H</text></g>
<g><polyline points="538.38,402.12 614.32,382.21" fill="none" stroke="#008000" stroke-width="1.8" stroke-linejoin="round"/>
<circle cx="538.38" cy="402.12" r="2.9" fill="#008000"/>
<circle cx="614.32" cy="382.21" r="2.9" fill="#008000"/>
<polyline points="538.38,403.1 614.32,400.16" fill="none" stroke="#ffa500" stroke-width="1.8" stroke-linejoin="round"/>
<circle cx="538.38" cy="403.1" r="2.9" fill="#ffa500"/>
<circle cx="614.32" cy="400.16" r="2.9" fill="#ffa500"/>
<polyline points="538.38,417.47 614.32,415.84" fill="none" stroke="#0000ff" stroke-width="1.8" stroke-linejoin="round"/>
<circle cx="538.38" cy="417.47" r="2.9" fill="#0000ff"/>
<circle cx="614.32" cy="415.84" r="2.9" fill="#0000ff"/>
<polyline points="538.38,399.84 614.32,421.06" fill="none" stroke="#ff0000" stroke-width="1.8" stroke-linejoin="round"/>
<circle cx="538.38" cy="399.84" r="2.9" fill="#ff0000"/>
<circle cx="614.32" cy="421.06" r="2.9" fill="#ff0000"/>
<rect x="508" y="439.45" width="15.19" height="19.26" fill="rgb(19,107,19)" fill-opacity="0.25"/>
<rect x="583.94" y="369.15" width="15.19" height="89.57" fill="rgb(19,107,19)" fill-opacity="0.25"/>
<rect x="523.18" y="424.22" width="15.19" height="34.5" fill="rgb(215,147,27)" fill-opacity="0.25"/>
<rect x="599.13" y="384.38" width="15.19" height="74.33" fill="rgb(215,147,27)" fill-opacity="0.25"/>
<rect x="538.38" y="430.42" width="15.19" height="28.3" fill="rgb(27,27,203)" fill-opacity="0.25"/>
<rect x="614.32" y="378.18" width="15.19" height="80.54" fill="rgb(27,27,203)" fill-opacity="0.25"/>
<rect x="553.57" y="390.48" width="15.19" height="68.24" fill="rgb(203,27,35)" fill-opacity="0.25"/>
<rect x="629.51" y="418.12" width="15.19" height="40.59" fill="rgb(203,27,35)" fill-opacity="0.25"/>
<rect x="500.4" y="338.6" width="151.9" height="130.6" fill="none" stroke="#707070" stroke-width="1.2"/>
<line x1="497.8" y1="458.32" x2="500.4" y2="458.32" stroke="#707070" stroke-width="1"/>
<line x1="652.3" y1="458.32" x2="654.9" y2="458.32" stroke="#707070" stroke-width="1"/>
<text transform="translate(495.8,461.22) scale(0.95,1)" text-anchor="end" class="tk">0.0</text>
<text transform="translate(657.1,461.22) scale(0.95,1)" class="tk">0.0</text>
<line x1="497.8" y1="436.55" x2="500.4" y2="436.55" stroke="#707070" stroke-width="1"/>
<line x1="652.3" y1="436.55" x2="654.9" y2="436.55" stroke="#707070" stroke-width="1"/>
<text transform="translate(495.8,439.45) scale(0.95,1)" text-anchor="end" class="tk">0.2</text>
<text transform="translate(657.1,439.45) scale(0.95,1)" class="tk">0.2</text>
<line x1="497.8" y1="414.78" x2="500.4" y2="414.78" stroke="#707070" stroke-width="1"/>
<line x1="652.3" y1="414.78" x2="654.9" y2="414.78" stroke="#707070" stroke-width="1"/>
<text transform="translate(495.8,417.68) scale(0.95,1)" text-anchor="end" class="tk">0.4</text>
<text transform="translate(657.1,417.68) scale(0.95,1)" class="tk">0.4</text>
<line x1="497.8" y1="393.02" x2="500.4" y2="393.02" stroke="#707070" stroke-width="1"/>
<line x1="652.3" y1="393.02" x2="654.9" y2="393.02" stroke="#707070" stroke-width="1"/>
<text transform="translate(495.8,395.92) scale(0.95,1)" text-anchor="end" class="tk">0.6</text>
<text transform="translate(657.1,395.92) scale(0.95,1)" class="tk">0.6</text>
<line x1="497.8" y1="371.25" x2="500.4" y2="371.25" stroke="#707070" stroke-width="1"/>
<line x1="652.3" y1="371.25" x2="654.9" y2="371.25" stroke="#707070" stroke-width="1"/>
<text transform="translate(495.8,374.15) scale(0.95,1)" text-anchor="end" class="tk">0.8</text>
<text transform="translate(657.1,374.15) scale(0.95,1)" class="tk">0.8</text>
<line x1="497.8" y1="349.48" x2="500.4" y2="349.48" stroke="#707070" stroke-width="1"/>
<line x1="652.3" y1="349.48" x2="654.9" y2="349.48" stroke="#707070" stroke-width="1"/>
<text transform="translate(495.8,352.38) scale(0.95,1)" text-anchor="end" class="tk">1.0</text>
<text transform="translate(657.1,352.38) scale(0.95,1)" class="tk">1.0</text>
<line x1="538.38" y1="469.2" x2="538.38" y2="471.8" stroke="#707070" stroke-width="1"/>
<text transform="translate(538.38,480) scale(0.82,1)" text-anchor="middle" class="tk">AP</text>
<line x1="614.32" y1="469.2" x2="614.32" y2="471.8" stroke="#707070" stroke-width="1"/>
<text transform="translate(614.32,480) scale(0.82,1)" text-anchor="middle" class="tk">PA</text>
<text transform="translate(480.9,404.4) rotate(-90)" text-anchor="middle" class="yl" textLength="29" lengthAdjust="spacingAndGlyphs">F1 Score</text>
<text transform="translate(675.6,404.9) rotate(-90)" text-anchor="middle" class="yl" textLength="34.5" lengthAdjust="spacingAndGlyphs">Frequency</text>
<text x="576.6" y="493.6" text-anchor="middle" class="xl" textLength="66.5" lengthAdjust="spacingAndGlyphs">View Position</text>
<text x="471" y="488.4" class="let">I</text>
<line x1="590.8" y1="346" x2="605.3" y2="346" stroke="#008000" stroke-width="1.8"/>
<text transform="translate(609.1,350) scale(0.93,1)" class="lg">Normal</text>
<line x1="590.8" y1="355.85" x2="605.3" y2="355.85" stroke="#ffa500" stroke-width="1.8"/>
<text transform="translate(609.1,359.85) scale(0.93,1)" class="lg">Abnormal</text>
<line x1="590.8" y1="365.7" x2="605.3" y2="365.7" stroke="#0000ff" stroke-width="1.8"/>
<text transform="translate(609.1,369.7) scale(0.93,1)" class="lg">Pneumonia</text>
<line x1="590.8" y1="375.55" x2="605.3" y2="375.55" stroke="#ff0000" stroke-width="1.8"/>
<text transform="translate(609.1,379.55) scale(0.93,1)" class="lg">COVID-19</text></g>
</svg>
</body></html>
